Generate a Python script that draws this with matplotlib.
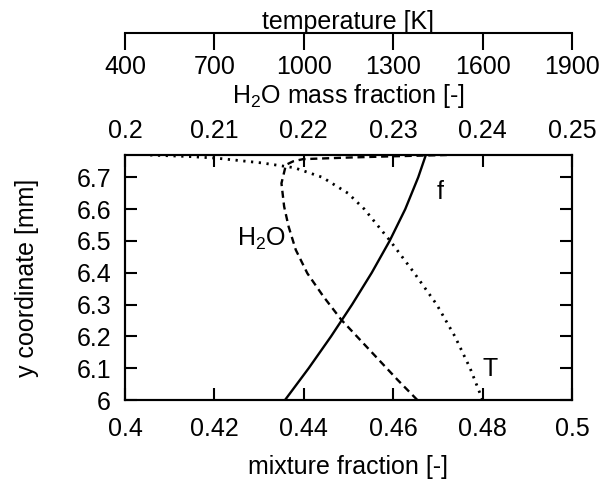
import numpy as np
import matplotlib
matplotlib.use("Agg")
import matplotlib.pyplot as plt

plt.rcParams["font.family"] = ["Liberation Sans", "DejaVu Sans"]
plt.rcParams["mathtext.default"] = "regular"

# mixture fraction f vs y coordinate
f_y = [6.0, 6.1, 6.2, 6.3, 6.4, 6.5, 6.6, 6.7, 6.77]
f_val = [0.4358, 0.4411, 0.4461, 0.4508, 0.4552, 0.4592, 0.4627, 0.4656, 0.4673]

# H2O mass fraction vs y coordinate
h2o_y = [6.0, 6.063, 6.168, 6.252, 6.325, 6.398, 6.472, 6.545, 6.608, 6.681,
         6.739, 6.75, 6.757, 6.762, 6.766, 6.77]
h2o_val = [0.2327, 0.2305, 0.2270, 0.2242, 0.2222, 0.2204, 0.2191, 0.2183,
           0.2178, 0.2175, 0.2180, 0.2188, 0.2199, 0.2250, 0.2300, 0.2360]

# temperature vs y coordinate
t_y = [6.0, 6.1, 6.2, 6.3, 6.4, 6.5, 6.6, 6.65, 6.7, 6.73, 6.745, 6.76,
       6.765, 6.77]
t_val = [1600, 1558, 1507, 1446, 1370, 1290, 1203, 1148, 1062, 968, 860,
         708, 620, 480]

f_ticks = [0.4, 0.42, 0.44, 0.46, 0.48, 0.5]
f_labels = ["0.4", "0.42", "0.44", "0.46", "0.48", "0.5"]
h2o_ticks = [0.2, 0.21, 0.22, 0.23, 0.24, 0.25]
h2o_labels = ["0.2", "0.21", "0.22", "0.23", "0.24", "0.25"]
t_ticks = [400, 700, 1000, 1300, 1600, 1900]
y_ticks = [6.0, 6.1, 6.2, 6.3, 6.4, 6.5, 6.6, 6.7]
y_labels = ["6", "6.1", "6.2", "6.3", "6.4", "6.5", "6.6", "6.7"]

FS = 18
LW = 1.5
CLW = 1.7

fig = plt.figure(figsize=(6.06, 4.8), dpi=100)
W, H = 606.0, 480.0
left, right, top, bottom = 125, 572, 155, 400
ax = fig.add_axes([left / W, (H - bottom) / H, (right - left) / W, (bottom - top) / H])

ax.plot(f_val, f_y, color="black", lw=CLW)
ax.set_xlim(0.4, 0.5)
ax.set_ylim(6.0, 6.77)
ax.set_xticks(f_ticks)
ax.set_xticklabels(f_labels)
ax.set_yticks(y_ticks)
ax.set_yticklabels(y_labels)
ax.tick_params(direction="in", length=8.5, width=LW, labelsize=FS,
               right=True, top=False, pad=12)
ax.tick_params(axis="y", pad=10)
for s in ax.spines.values():
    s.set_linewidth(LW)
ax.set_xlabel("mixture fraction [-]", fontsize=FS, labelpad=10)
ax.set_ylabel("y coordinate [mm]", fontsize=FS, labelpad=27)

# H2O axis on top of the box
ax2 = ax.twiny()
ax2.plot(h2o_val, h2o_y, color="black", lw=CLW, linestyle=(0, (3, 2)))
ax2.set_xlim(0.2, 0.25)
ax2.set_xticks(h2o_ticks)
ax2.set_xticklabels(h2o_labels)
ax2.tick_params(direction="in", length=8.5, width=LW, labelsize=FS, pad=9)
ax2.set_xlabel("H$_2$O mass fraction [-]", fontsize=FS, labelpad=11)
for s in ax2.spines.values():
    s.set_linewidth(LW)

# temperature curve, plotted in its own scale
axT = ax.twiny()
axT.plot(t_val, t_y, color="black", lw=2.0, linestyle=(0, (0.8, 2.0)))
axT.set_xlim(400, 1900)
axT.axis("off")

# separate temperature axis above
ax3 = fig.add_axes([left / W, (H - 33) / H, (right - left) / W, 0.0001])
ax3.set_xlim(400, 1900)
ax3.set_xticks(t_ticks)
ax3.set_yticks([])
for k in ["left", "right", "top"]:
    ax3.spines[k].set_visible(False)
ax3.spines["bottom"].set_linewidth(LW)
ax3.tick_params(axis="x", direction="out", length=12, width=LW,
                labelsize=FS, pad=4)
ax3.xaxis.set_label_position("top")
ax3.set_xlabel("temperature [K]", fontsize=FS, labelpad=3)
ax3.patch.set_visible(False)

ax.text(0.4705, 6.654, "f", fontsize=FS, ha="center", va="center")
ax.text(0.4306, 6.506, "H$_2$O", fontsize=FS, ha="center", va="center")
ax.text(0.4817, 6.097, "T", fontsize=FS, ha="center", va="center")

fig.savefig("out.png", dpi=100)
